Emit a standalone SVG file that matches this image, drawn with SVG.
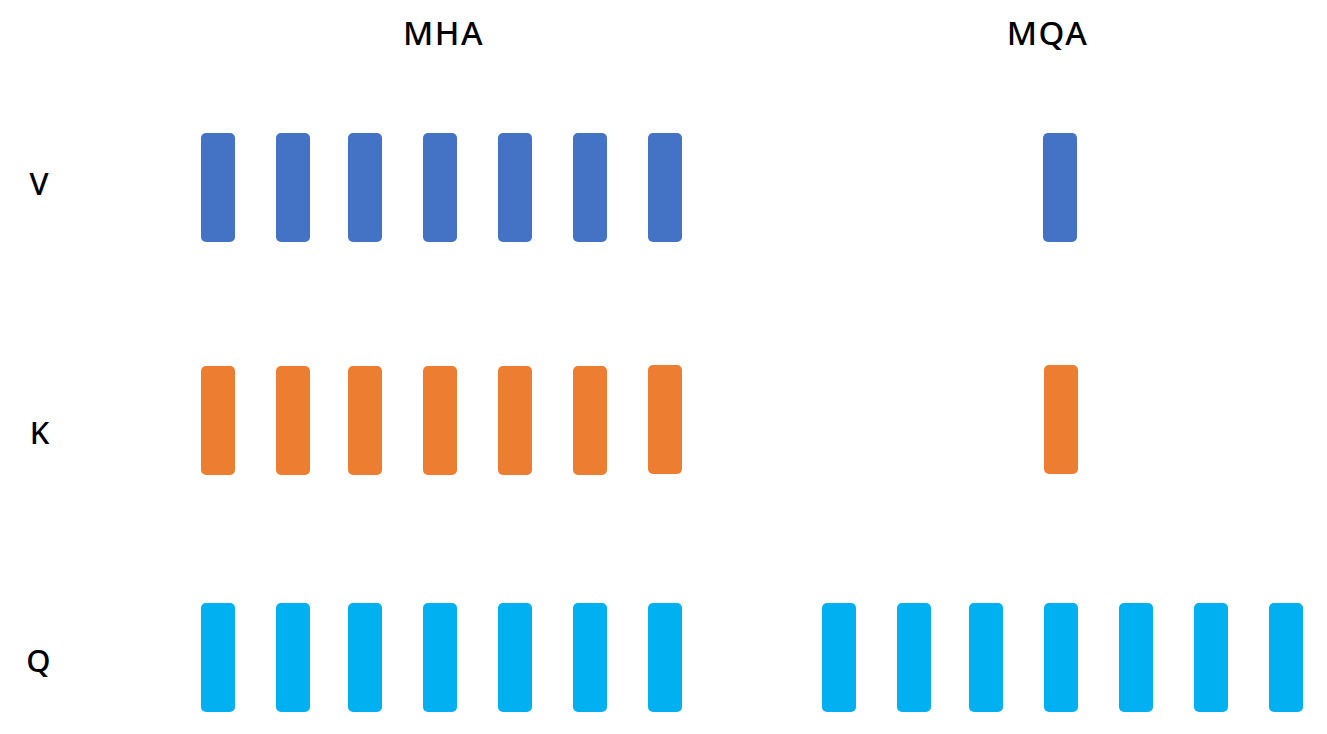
<svg xmlns="http://www.w3.org/2000/svg" width="1327" height="734" viewBox="0 0 1327 734">
<style>
.t{font-family:"Noto Sans",sans-serif;font-size:31px;font-weight:500;fill:#000;text-anchor:middle}
.h{font-size:33px;letter-spacing:1.5px}
.v{fill:#4472C4}.k{fill:#ED7D31}.q{fill:#00B0F0}
</style>
<defs>
<rect id="b" width="34" height="109" rx="5"/>
</defs>
<rect width="1327" height="734" fill="#fff"/>
<g id="titles">
<text class="t h" x="443.5" y="45">MHA</text>
<text class="t h" x="1047.5" y="45">MQA</text>
</g>
<g id="labels">
<text class="t" x="39" y="195">V</text>
<text class="t" x="39.5" y="444">K</text>
<text class="t" x="38.5" y="672">Q</text>
</g>
<g id="mha-v" class="v">
<use href="#b" x="201" y="133"/><use href="#b" x="276" y="133"/><use href="#b" x="348" y="133"/><use href="#b" x="423" y="133"/><use href="#b" x="498" y="133"/><use href="#b" x="573" y="133"/><use href="#b" x="648" y="133"/>
</g>
<g id="mha-k" class="k">
<use href="#b" x="201" y="366"/><use href="#b" x="276" y="366"/><use href="#b" x="348" y="366"/><use href="#b" x="423" y="366"/><use href="#b" x="498" y="366"/><use href="#b" x="573" y="366"/><use href="#b" x="648" y="365"/>
</g>
<g id="mha-q" class="q">
<use href="#b" x="201" y="603"/><use href="#b" x="276" y="603"/><use href="#b" x="348" y="603"/><use href="#b" x="423" y="603"/><use href="#b" x="498" y="603"/><use href="#b" x="573" y="603"/><use href="#b" x="648" y="603"/>
</g>
<g id="mqa-v" class="v"><use href="#b" x="1043" y="133"/></g>
<g id="mqa-k" class="k"><use href="#b" x="1044" y="365"/></g>
<g id="mqa-q" class="q">
<use href="#b" x="822" y="603"/><use href="#b" x="897" y="603"/><use href="#b" x="969" y="603"/><use href="#b" x="1044" y="603"/><use href="#b" x="1119" y="603"/><use href="#b" x="1194" y="603"/><use href="#b" x="1269" y="603"/>
</g>
<g id="connectors"/>
</svg>
